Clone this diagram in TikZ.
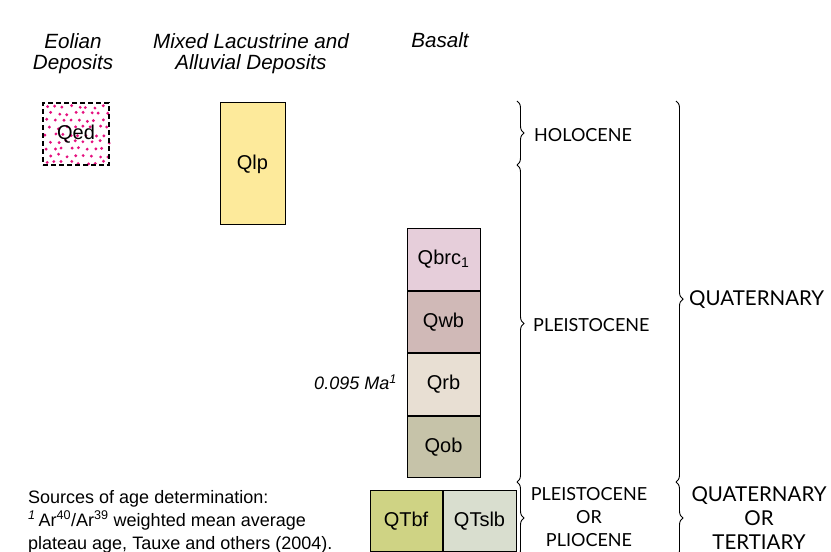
\documentclass[tikz,border=0pt]{standalone}
\usepackage{fontspec}
\setmainfont{Liberation Sans}
\newfontfamily\erafont{Lato}
\usetikzlibrary{decorations.pathreplacing}

\definecolor{dotpink}{HTML}{E5117F}
\definecolor{cQlp}{HTML}{FDEA9B}
\definecolor{cQbrc}{HTML}{E6CEDA}
\definecolor{cQwb}{HTML}{D0B9B7}
\definecolor{cQrb}{HTML}{E8DFD3}
\definecolor{cQob}{HTML}{C6C3A9}
\definecolor{cQTbf}{HTML}{CFD384}
\definecolor{cQTslb}{HTML}{D9DECF}

\tikzset{
  unitbox/.style={draw=black, line width=1pt, inner sep=0pt,
    font=\fontsize{20}{24}\selectfont},
  coltitle/.style={font=\fontsize{20.6}{21.5}\selectfont\itshape, align=center, inner sep=0pt},
  erabrace/.style={decorate, decoration={brace, amplitude=7pt, aspect=#1},
    line width=0.9pt},
  erabrace/.default=0.5,
  eralabel/.style={font=\erafont\fontsize{18}{23}\selectfont, inner sep=0pt, align=center},
  periodlabel/.style={font=\erafont\fontsize{20.5}{24}\selectfont, inner sep=0pt, align=center},
}

\begin{document}
\begin{tikzpicture}[x=1pt,y=1pt]
\useasboundingbox (0,0) rectangle (831,552);

% column headings
\node[coltitle] (tEol) at (73,498.5) {Eolian\\Deposits};
\node[coltitle] (tLac) at (251,498.5) {Mixed Lacustrine and\\Alluvial Deposits};
\node[coltitle, anchor=north] (tBas) at (440,520) {Basalt};

% eolian deposits: stippled box with dashed outline
\begin{scope}
  \pgfmathsetseed{11}
  \foreach \i in {0,...,7} {
    \foreach \j in {0,...,8} {
      \pgfmathsetmacro{\dx}{46+\i*8.2+mod(\j,2)*4+rand*1.8}
      \pgfmathsetmacro{\dy}{389.5+\j*7.0+rand*1.6}
      \fill[dotpink] (\dx,\dy) circle (1.6);
    }
  }
\end{scope}
\node[unitbox, dash pattern=on 5pt off 3pt, line width=1.4pt,
  minimum width=66pt, minimum height=62pt] (qed) at (76,418) {Qed};

% lacustrine and alluvial deposits
\node[unitbox, fill=cQlp, minimum width=65pt, minimum height=122pt] (qlp) at (252.5,388) {Qlp};

% basalt column
\node[unitbox, fill=cQbrc, minimum width=73pt, minimum height=61.5pt] (qbrc) at (443.5,292.5) {Qbrc\textsubscript{1}};
\node[unitbox, fill=cQwb, minimum width=73pt, minimum height=61.5pt, anchor=north] (qwb) at (qbrc.south) {Qwb};
\node[unitbox, fill=cQrb, minimum width=73pt, minimum height=61.5pt, anchor=north] (qrb) at (qwb.south) {Qrb};
\node[unitbox, fill=cQob, minimum width=73pt, minimum height=61.5pt, anchor=north] (qob) at (qrb.south) {Qob};
\node[font=\fontsize{18}{20}\selectfont\itshape, anchor=east, inner sep=0pt] (age) at (397,170) {0.095 Ma\textsuperscript{1}};

% basalt of pleistocene or pliocene age
\node[unitbox, fill=cQTbf, minimum width=72pt, minimum height=61pt] (qtbf) at (406,30.5) {QTbf};
\node[unitbox, fill=cQTslb, minimum width=73pt, minimum height=61pt, anchor=west] (qtslb) at (qtbf.east) {QTslb};

% footnote
\node[font=\fontsize{18}{23}\selectfont, align=left, anchor=north west, inner sep=0pt] (note) at (28,62)
  {Sources of age determination:\\
   \textit{\textsuperscript{1}}\,Ar\textsuperscript{40}/Ar\textsuperscript{39} weighted mean average\\
   plateau age, Tauxe and others (2004).};

% epoch braces
\coordinate (e0) at (517,451);
\coordinate (e1) at (517,387);
\coordinate (e2) at (517,70);
\coordinate (e3) at (517,-5);
\draw[erabrace] (e0) -- (e1);
\draw[erabrace] (e1) -- (e2);
\draw[erabrace=0.48] (e2) -- (e3);
\node[eralabel, anchor=west] (holo) at (534,417) {HOLOCENE};
\node[eralabel, anchor=west] (pleis) at (533,227) {PLEISTOCENE};
\node[eralabel, anchor=north] (pp) at (589,65) {PLEISTOCENE\\OR\\PLIOCENE};

% period braces
\coordinate (p0) at (676,451);
\coordinate (p1) at (676,70);
\coordinate (p2) at (676,-5);
\draw[erabrace=0.52] (p0) -- (p1);
\draw[erabrace=0.48] (p1) -- (p2);
\node[periodlabel, anchor=west] (quat) at (689,252) {QUATERNARY};
\node[periodlabel, anchor=north] (qt) at (759,66) {QUATERNARY\\OR\\TERTIARY};
\end{tikzpicture}
\end{document}
